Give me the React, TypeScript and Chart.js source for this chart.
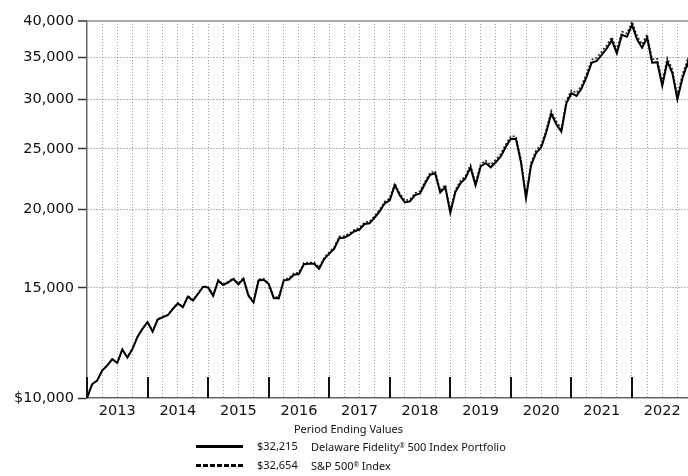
import React, { useEffect, useRef } from 'react';
import { Chart, registerables } from 'chart.js';

Chart.register(...registerables);

// Index 0 = Dec 2012, one point per month through Dec 2022
const yearLabels = ['2013', '2014', '2015', '2016', '2017', '2018', '2019', '2020', '2021', '2022'];
const yTicks = [10000, 15000, 20000, 25000, 30000, 35000, 40000];

const fundValues = [
  10000,
  10517, 10659, 11057, 11269, 11532, 11376, 11954, 11606, 11969, 12518, 12898, 13223,
  12764, 13346, 13456, 13555, 13871, 14157, 13960, 14516, 14312, 14660, 15052, 15012,
  14561, 15396, 15151, 15295, 15490, 15189, 15506, 14568, 14207, 15405, 15449, 15203,
  14448, 14427, 15404, 15462, 15738, 15778, 16358, 16380, 16381, 16080, 16673, 17002,
  17323, 18009, 18028, 18212, 18466, 18580, 18960, 19016, 19406, 19856, 20463, 20687,
  21871, 21061, 20524, 20600, 21094, 21222, 22009, 22724, 22851, 21285, 21717, 19754,
  21333, 22016, 22441, 23347, 21862, 23401, 23734, 23357, 23791, 24305, 25184, 25942,
  25929, 23792, 20851, 23522, 24638, 25126, 26539, 28445, 27361, 26630, 29543, 30673,
  30360, 31194, 32557, 34292, 34528, 35328, 36165, 37260, 35523, 38010, 37743, 39429,
  37387, 36265, 37605, 34323, 34380, 31540, 34444, 33035, 29990, 32415, 34224, 32215,
];

const indexValues = [
  10000,
  10518, 10661, 11061, 11274, 11538, 11384, 11963, 11616, 11981, 12532, 12914, 13241,
  12783, 13367, 13479, 13579, 13898, 14186, 13990, 14549, 14346, 14696, 15091, 15053,
  14602, 15441, 15197, 15343, 15541, 15240, 15560, 14621, 14260, 15464, 15510, 15265,
  14508, 14489, 15472, 15532, 15811, 15853, 16438, 16461, 16464, 16164, 16762, 17094,
  17419, 18111, 18132, 18319, 18577, 18693, 19078, 19137, 19531, 19986, 20600, 20828,
  22022, 21209, 20671, 20749, 21249, 21381, 22176, 22899, 23030, 21454, 21892, 19915,
  21510, 22201, 22632, 23548, 22053, 23608, 23947, 23569, 24010, 24531, 25421, 26189,
  26179, 24024, 21057, 23757, 24887, 25383, 26814, 28742, 27650, 26914, 29862, 31008,
  30695, 31542, 32924, 34682, 34925, 35738, 36589, 37701, 35948, 38468, 38203, 39914,
  37851, 36719, 38081, 34761, 34823, 31950, 34896, 33472, 30390, 32851, 34688, 32654,
];

const legendTitle = 'Period Ending Values';
const endingValues = ['$32,215', '$32,654'];
const seriesNames = ['Delaware Fidelity', 'S&P 500'];
const seriesSuffix = [' 500 Index Portfolio', ' Index'];

const FONT = '"DejaVu Sans", Verdana, sans-serif';

const yearMarks = {
  id: 'yearMarks',
  afterDatasetsDraw(chart: any) {
    const { ctx, chartArea, scales } = chart;
    const xs = scales.x;
    ctx.save();
    ctx.strokeStyle = '#111';
    ctx.lineWidth = 2;
    for (let i = 0; i < yearLabels.length; i++) {
      const px = Math.round(xs.getPixelForValue(i * 12));
      ctx.beginPath();
      ctx.moveTo(px, chartArea.bottom - 21);
      ctx.lineTo(px, chartArea.bottom);
      ctx.stroke();
    }
    ctx.restore();
  },
};

export default function App() {
  const ref = useRef<HTMLCanvasElement | null>(null);

  useEffect(() => {
    if (!ref.current) return;
    const chart = new Chart(ref.current, {
      type: 'line',
      data: {
        datasets: [
          {
            label: 'Delaware Fidelity® 500 Index Portfolio',
            data: fundValues.map((v, i) => ({ x: i, y: v })),
            borderColor: '#000',
            borderWidth: 2,
            pointRadius: 0,
            tension: 0,
          },
          {
            label: 'S&P 500® Index',
            data: indexValues.map((v, i) => ({ x: i, y: v })),
            borderColor: '#222',
            borderWidth: 1.6,
            borderDash: [2, 2],
            pointRadius: 0,
            tension: 0,
          },
        ],
      },
      options: {
        responsive: false,
        animation: false,
        layout: { padding: { top: 21, right: 0, left: 0, bottom: 0 } },
        plugins: { legend: { display: false }, tooltip: { enabled: false } },
        scales: {
          x: {
            type: 'linear',
            min: 0,
            max: 119.1,
            afterBuildTicks: (s: any) => {
              const t = [];
              for (let v = 0; v <= 117; v += 3) t.push({ value: v });
              s.ticks = t;
            },
            afterFit: (s: any) => {
              s.height = 78;
            },
            ticks: {
              autoSkip: false,
              maxRotation: 0,
              minRotation: 0,
              padding: 5,
              color: '#111',
              font: { family: FONT, size: 14.5 },
              callback: (v: any) => {
                const n = Number(v);
                return (n - 6) % 12 === 0 ? yearLabels[(n - 6) / 12] : '';
              },
            },
            grid: {
              color: (c: any) => (c.tick && c.tick.value === 0 ? 'rgba(0,0,0,0)' : '#a0a0a0'),
              lineWidth: 1,
              drawTicks: false,
              tickLength: 0,
            },
            border: { display: true, color: '#666', width: 1.5, dash: [1, 2] },
          },
          y: {
            type: 'logarithmic',
            min: 10000,
            max: 40000,
            afterBuildTicks: (s: any) => {
              s.ticks = yTicks.map((v) => ({ value: v }));
            },
            afterFit: (s: any) => {
              s.width = 87;
            },
            ticks: {
              padding: 4,
              color: '#111',
              font: { family: FONT, size: 14.5 },
              callback: (v: any) =>
                Number(v) === 10000 ? '$10,000' : Number(v).toLocaleString('en-US'),
            },
            grid: {
              color: (c: any) => {
                const v = c.tick ? c.tick.value : 0;
                if (v === 40000) return '#a8a8a8';
                if (v === 10000) return 'rgba(0,0,0,0)';
                return '#777';
              },
              lineWidth: (c: any) => (c.tick && c.tick.value === 40000 ? 2 : 1),
              tickLength: 9,
              tickColor: '#333',
              tickWidth: 1.5,
              tickBorderDash: [],
            },
            border: {
              display: true,
              color: '#666',
              width: 1.5,
              dash: (c: any) => (c.tick && c.tick.value === 40000 ? [] : [1, 2]),
            },
          },
        },
      },
      plugins: [yearMarks],
    } as any);
    return () => chart.destroy();
  }, []);

  const legendFont = '"Noto Sans", "Liberation Sans", sans-serif';
  const rowStyle = (top: number): React.CSSProperties => ({
    position: 'absolute',
    top,
    left: 0,
    width: 688,
    height: 16,
    fontFamily: legendFont,
    fontSize: 11,
    color: '#111',
  });
  const sup: React.CSSProperties = { fontSize: 6.5, verticalAlign: '3px' };

  return (
    <div style={{ position: 'fixed', left: 0, top: 0, width: 688, height: 476, background: '#fff' }}>
      <canvas ref={ref} width={688} height={476} style={{ display: 'block', width: 688, height: 476 }} />
      <div
        style={{
          position: 'absolute',
          top: 421,
          left: 0,
          width: 697,
          lineHeight: '16px',
          textAlign: 'center',
          fontFamily: legendFont,
          fontSize: 11,
          color: '#111',
        }}
      >
        {legendTitle}
      </div>
      {[0, 1].map((k) => (
        <div key={k} style={rowStyle(k === 0 ? 438 : 457)}>
          <div
            style={{
              position: 'absolute',
              left: 196,
              top: k === 0 ? 6.5 : 7,
              width: 47,
              height: k === 0 ? 3 : 2.5,
              background:
                k === 0
                  ? '#000'
                  : 'repeating-linear-gradient(to right, #000 0px, #000 5px, transparent 5px, transparent 7px)',
            }}
          />
          <span style={{ position: 'absolute', left: 257, top: 0, lineHeight: '16px' }}>{endingValues[k]}</span>
          <span style={{ position: 'absolute', left: 311, top: 0, lineHeight: '16px', whiteSpace: 'nowrap' }}>
            {seriesNames[k]}
            <span style={sup}>®</span>
            {seriesSuffix[k]}
          </span>
        </div>
      ))}
    </div>
  );
}
